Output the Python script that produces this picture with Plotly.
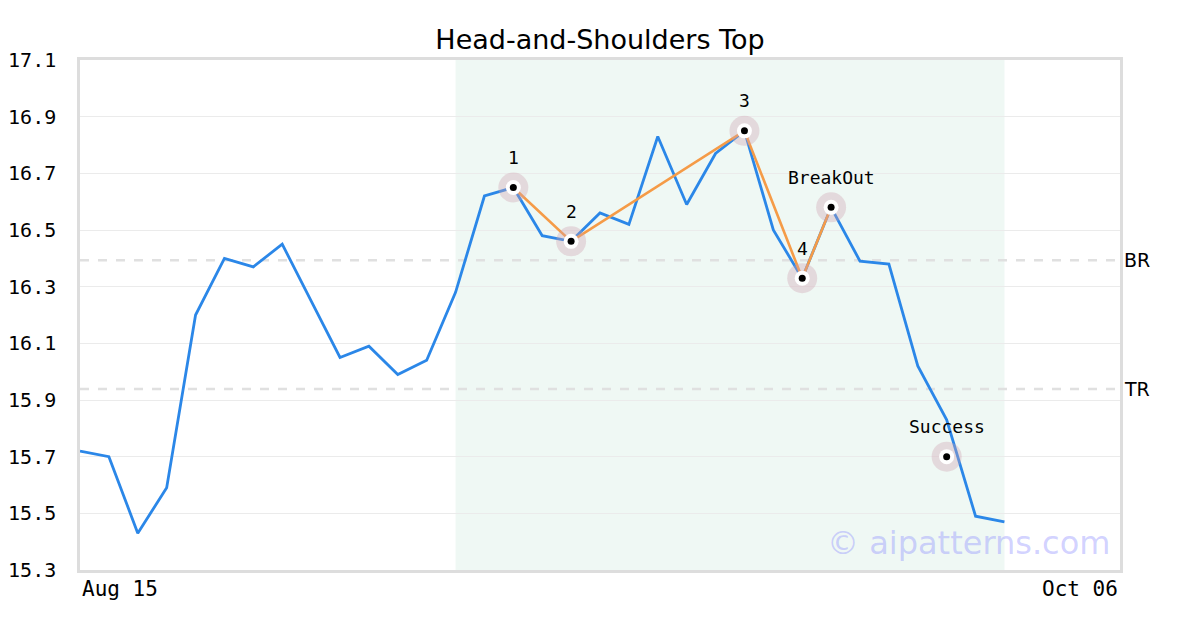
import plotly.graph_objects as go

# ---- data ----
prices = [15.72, 15.70, 15.43, 15.59, 16.20, 16.40, 16.37, 16.45, 16.25, 16.05,
          16.09, 15.99, 16.04, 16.28, 16.62, 16.65, 16.48, 16.46, 16.56, 16.52,
          16.83, 16.59, 16.77, 16.85, 16.50, 16.33, 16.58, 16.39, 16.38, 16.02,
          15.83, 15.49, 15.47]
idx = list(range(len(prices)))

pattern_idx = [15, 17, 23, 25, 26]
pattern_vals = [16.65, 16.46, 16.85, 16.33, 16.58]
pattern_labels = ["1", "2", "3", "4", "BreakOut"]

success_idx = [30]
success_vals = [15.70]
success_labels = ["Success"]

br_level = 16.393
tr_level = 15.939
level_labels = ["BR", "TR"]

shade_start, shade_end = 13, 32
x_min, x_max = 0, 36
x_tick_labels = ["Aug 15", "Oct 06"]

y_min, y_max = 15.3, 17.1
y_ticks = [15.3, 15.5, 15.7, 15.9, 16.1, 16.3, 16.5, 16.7, 16.9, 17.1]

title = "Head-and-Shoulders Top"
watermark = "© aipatterns.com"

MONO = "DejaVu Sans Mono"
SANS = "DejaVu Sans"

# the page body has an 8px default margin; size the figure to compensate
FIG_W, FIG_H = 1192, 622

fig = go.Figure()

fig.add_trace(go.Scatter(x=idx, y=prices, mode="lines",
                         line=dict(color="#2b87e8", width=2.8), hoverinfo="skip"))
fig.add_trace(go.Scatter(x=pattern_idx, y=pattern_vals, mode="lines",
                         line=dict(color="#f59b47", width=2.6), hoverinfo="skip"))

mk_x = pattern_idx + success_idx
mk_y = pattern_vals + success_vals
fig.add_trace(go.Scatter(x=mk_x, y=mk_y, mode="markers",
                         marker=dict(size=30, color="rgba(205,160,175,0.35)", line=dict(width=0)),
                         hoverinfo="skip"))
fig.add_trace(go.Scatter(x=mk_x, y=mk_y, mode="markers",
                         marker=dict(size=15, color="white", line=dict(width=0)),
                         hoverinfo="skip"))
fig.add_trace(go.Scatter(x=mk_x, y=mk_y, mode="markers",
                         marker=dict(size=7, color="black", line=dict(width=0)),
                         hoverinfo="skip"))

# shaded pattern region
fig.add_shape(type="rect", xref="x", yref="paper", x0=shade_start, x1=shade_end, y0=0, y1=1,
              fillcolor="rgba(215,238,228,0.4)", line=dict(width=0), layer="below")

# BR / TR dashed lines
for lvl, lab in zip([br_level, tr_level], level_labels):
    fig.add_shape(type="line", xref="paper", yref="y", x0=0, x1=1, y0=lvl, y1=lvl,
                  line=dict(color="#e0e0e0", width=2.5, dash="dash"), layer="below")
    fig.add_annotation(xref="paper", yref="y", x=1, y=lvl, text=lab, showarrow=False,
                       xanchor="left", yanchor="middle", xshift=2,
                       font=dict(family=SANS, size=19, color="black"))

# point labels
for xi, yi, lab in zip(pattern_idx + success_idx, pattern_vals + success_vals,
                       pattern_labels + success_labels):
    fig.add_annotation(x=xi, y=yi, text=lab, showarrow=False, yshift=30,
                       xanchor="center", yanchor="middle",
                       font=dict(family=MONO, size=18, color="black"))

# x-axis end labels
fig.add_annotation(xref="paper", yref="paper", x=0, y=0, text=x_tick_labels[0],
                   showarrow=False, xanchor="left", yanchor="top", yshift=-5,
                   font=dict(family=MONO, size=21, color="black"))
fig.add_annotation(xref="paper", yref="paper", x=1, y=0, text=x_tick_labels[1],
                   showarrow=False, xanchor="right", yanchor="top", yshift=-5,
                   font=dict(family=MONO, size=21, color="black"))

# watermark
fig.add_annotation(xref="paper", yref="paper", x=1, y=0, text=watermark,
                   showarrow=False, xanchor="right", yanchor="bottom", xshift=-8, yshift=6,
                   font=dict(family=SANS, size=32, color="rgba(140,140,255,0.4)"))

fig.update_layout(
    width=FIG_W, height=FIG_H,
    margin=dict(l=72, r=80, t=52, b=60, autoexpand=False),
    paper_bgcolor="white", plot_bgcolor="white",
    showlegend=False,
    title=dict(text=title, x=(600 - 8) / FIG_W, xanchor="center", y=1 - 32 / FIG_H,
               yanchor="middle", font=dict(family=SANS, size=27, color="black")),
    xaxis=dict(range=[x_min, x_max], showgrid=False, zeroline=False, showticklabels=False,
               showline=True, mirror=True, linecolor="#dddddd", linewidth=2.5,
               fixedrange=True, automargin=False),
    yaxis=dict(range=[y_min, y_max], tickvals=y_ticks, ticktext=[f"{v:.1f}" for v in y_ticks],
               showgrid=True, gridcolor="#ebebeb", gridwidth=1, zeroline=False,
               showline=True, mirror=True, linecolor="#dddddd", linewidth=2.5,
               ticks="outside", ticklen=17, tickcolor="rgba(0,0,0,0)",
               tickfont=dict(family=MONO, size=20, color="black"),
               fixedrange=True, automargin=False),
)

fig.write_html("out.html")
